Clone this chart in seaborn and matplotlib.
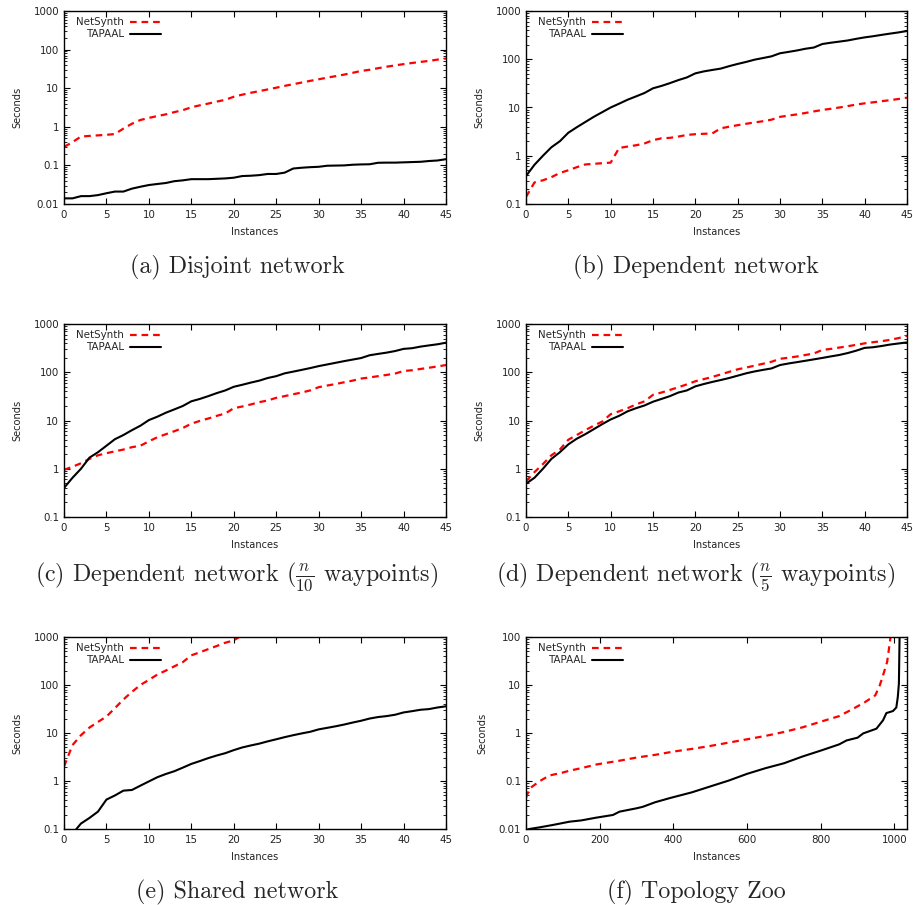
import matplotlib
matplotlib.use("Agg")
import matplotlib.pyplot as plt
import matplotlib.ticker as ticker
import seaborn as sns

instances = list(range(46))

# (a) Disjoint network
disjoint_netsynth = [0.30, 0.40, 0.56, 0.58, 0.60, 0.62, 0.65, 0.90, 1.2, 1.5,
                     1.7, 1.9, 2.1, 2.4, 2.7, 3.2, 3.6, 4.0, 4.5, 5.0,
                     6.0, 6.8, 7.6, 8.4, 9.3, 10.3, 11.5, 12.7, 14.0, 15.5,
                     17.0, 18.8, 20.5, 22.5, 25.0, 28.0, 30.0, 33.0, 36.0, 39.0,
                     42.0, 45.0, 48.0, 51.0, 55.0, 59.0]
disjoint_tapaal = [0.014, 0.014, 0.016, 0.016, 0.017, 0.019, 0.021, 0.021, 0.025, 0.028,
                   0.031, 0.033, 0.035, 0.039, 0.041, 0.044, 0.044, 0.044, 0.045, 0.046,
                   0.048, 0.053, 0.054, 0.056, 0.060, 0.060, 0.065, 0.083, 0.087, 0.090,
                   0.092, 0.098, 0.099, 0.100, 0.104, 0.106, 0.107, 0.117, 0.118, 0.118,
                   0.120, 0.122, 0.124, 0.130, 0.134, 0.145]

# (b) Dependent network
dependent_netsynth = [0.14, 0.28, 0.31, 0.36, 0.44, 0.50, 0.58, 0.66, 0.68, 0.70,
                      0.72, 1.45, 1.55, 1.65, 1.8, 2.1, 2.3, 2.35, 2.5, 2.7,
                      2.8, 2.85, 2.9, 3.7, 4.0, 4.3, 4.6, 4.9, 5.2, 5.6,
                      6.4, 6.8, 7.2, 7.7, 8.3, 8.9, 9.4, 10.0, 10.7, 11.5,
                      12.2, 12.8, 13.5, 14.2, 15.0, 16.0]
dependent_tapaal = [0.38, 0.65, 1.0, 1.5, 2.0, 3.0, 3.9, 5.0, 6.4, 8.0,
                    10.0, 12.0, 14.5, 17.0, 20.0, 25.0, 28.0, 32.0, 37.0, 42.0,
                    51.0, 56.0, 60.0, 64.0, 72.0, 80.0, 88.0, 98.0, 106.0, 115.0,
                    133.0, 142.0, 152.0, 165.0, 175.0, 207.0, 220.0, 232.0, 245.0, 265.0,
                    284.0, 300.0, 320.0, 340.0, 360.0, 385.0]

# (c) Dependent network (n/10 waypoints)
wp10_netsynth = [0.95, 1.1, 1.3, 1.6, 1.9, 2.1, 2.3, 2.5, 2.8, 3.0,
                 3.7, 4.5, 5.2, 6.0, 7.0, 8.6, 9.8, 11.0, 12.5, 14.0,
                 18.0, 19.5, 21.5, 24.0, 26.0, 29.5, 32.0, 35.0, 38.0, 42.0,
                 49.0, 53.0, 57.0, 62.0, 67.0, 74.0, 78.0, 83.0, 88.0, 94.0,
                 106.0, 110.0, 117.0, 124.0, 132.0, 141.0]
wp10_tapaal = [0.40, 0.65, 1.0, 1.7, 2.2, 3.0, 4.1, 5.0, 6.3, 7.8,
               10.2, 12.0, 14.5, 17.0, 20.0, 25.0, 28.0, 32.0, 37.0, 42.0,
               50.0, 55.0, 61.0, 67.0, 76.0, 83.0, 95.0, 103.0, 112.0, 122.0,
               134.0, 145.0, 157.0, 170.0, 183.0, 197.0, 225.0, 240.0, 255.0, 275.0,
               305.0, 315.0, 340.0, 360.0, 380.0, 410.0]

# (d) Dependent network (n/5 waypoints)
wp5_netsynth = [0.55, 0.85, 1.25, 1.9, 2.5, 4.0, 5.0, 6.3, 7.8, 9.5,
                13.5, 15.5, 18.0, 21.5, 25.0, 34.0, 38.0, 43.0, 49.0, 56.0,
                65.0, 72.0, 80.0, 90.0, 102.0, 115.0, 125.0, 137.0, 150.0, 165.0,
                190.0, 200.0, 212.0, 228.0, 245.0, 290.0, 305.0, 325.0, 345.0, 370.0,
                397.0, 420.0, 440.0, 470.0, 510.0, 570.0]
wp5_tapaal = [0.49, 0.65, 1.0, 1.6, 2.2, 3.2, 4.2, 5.2, 6.6, 8.4,
              10.5, 12.5, 15.5, 18.0, 20.5, 24.5, 28.0, 32.0, 38.0, 42.0,
              51.0, 57.0, 63.0, 69.0, 76.0, 85.0, 95.0, 104.0, 112.0, 120.0,
              141.0, 152.0, 162.0, 173.0, 185.0, 198.0, 213.0, 228.0, 250.0, 280.0,
              320.0, 330.0, 350.0, 375.0, 395.0, 415.0]

# (e) Shared network (NetSynth leaves the plot after ~21 instances)
shared_instances_netsynth = list(range(22))
shared_netsynth = [2.0, 5.6, 9.0, 13.0, 17.0, 22.0, 33.0, 50.0, 72.0, 100.0,
                   128.0, 165.0, 200.0, 245.0, 300.0, 415.0, 480.0, 560.0, 650.0, 760.0,
                   850.0, 1100.0]
shared_tapaal = [0.05, 0.08, 0.13, 0.17, 0.23, 0.41, 0.50, 0.63, 0.65, 0.80,
                 0.98, 1.2, 1.4, 1.6, 1.9, 2.27, 2.6, 3.0, 3.4, 3.8,
                 4.4, 5.0, 5.5, 6.0, 6.7, 7.4, 8.2, 9.0, 9.8, 10.6,
                 11.9, 12.8, 13.8, 15.0, 16.5, 18.0, 20.0, 21.5, 22.5, 24.0,
                 26.8, 28.5, 30.5, 31.5, 34.0, 36.0]

# (f) Topology Zoo
zoo_netsynth_x = [0, 10, 36, 63, 100, 118, 150, 190, 200, 254, 300, 350, 400, 450,
                  500, 550, 600, 650, 700, 750, 800, 850, 888, 920, 948, 960, 969,
                  980, 987, 990]
zoo_netsynth = [0.045, 0.07, 0.098, 0.13, 0.15, 0.164, 0.185, 0.22, 0.227, 0.265,
                0.308, 0.35, 0.41, 0.466, 0.537, 0.63, 0.74, 0.87, 1.05, 1.31,
                1.72, 2.25, 3.2, 4.4, 6.1, 9.8, 15.9, 30.0, 73.0, 110.0]
zoo_tapaal_x = [0, 9, 36, 72, 118, 150, 190, 236, 254, 300, 317, 350, 390, 450,
                500, 550, 600, 650, 700, 750, 800, 850, 870, 900, 915, 951, 969,
                978, 996, 1005, 1009, 1012, 1014]
zoo_tapaal = [0.0095, 0.010, 0.0108, 0.0121, 0.0142, 0.0151, 0.0172, 0.0196, 0.023,
              0.027, 0.029, 0.036, 0.044, 0.058, 0.077, 0.102, 0.141, 0.185, 0.234,
              0.323, 0.43, 0.58, 0.70, 0.80, 0.98, 1.23, 1.84, 2.6, 2.87, 3.4,
              5.6, 10.7, 120.0]

panels = [
    (instances, disjoint_netsynth, instances, disjoint_tapaal, (0.01, 1000), (0, 45), 5,
     "(a) Disjoint network"),
    (instances, dependent_netsynth, instances, dependent_tapaal, (0.1, 1000), (0, 45), 5,
     "(b) Dependent network"),
    (instances, wp10_netsynth, instances, wp10_tapaal, (0.1, 1000), (0, 45), 5,
     r"(c) Dependent network ($\frac{n}{10}$ waypoints)"),
    (instances, wp5_netsynth, instances, wp5_tapaal, (0.1, 1000), (0, 45), 5,
     r"(d) Dependent network ($\frac{n}{5}$ waypoints)"),
    (shared_instances_netsynth, shared_netsynth, instances, shared_tapaal, (0.1, 1000), (0, 45), 5,
     "(e) Shared network"),
    (zoo_netsynth_x, zoo_netsynth, zoo_tapaal_x, zoo_tapaal, (0.01, 100), (0, 1034), 200,
     "(f) Topology Zoo"),
]

sns.set_style("ticks")
plt.rcParams["font.family"] = ["DejaVu Sans"]
plt.rcParams["mathtext.fontset"] = "cm"

fig = plt.figure(figsize=(9.13, 9.05), dpi=100)

W, H = 913, 905
col_left = [64, 526]
col_width = [382, 381]
row_top = [11, 324, 637]
row_bottom = [204, 517, 829]
caption_x = [237, 696]
caption_base = [273, 581, 898]

for i, (nx, ny, tx, ty, ylim, xlim, xstep, caption) in enumerate(panels):
    r, c = divmod(i, 2)
    ax = fig.add_axes([col_left[c] / W, 1 - row_bottom[r] / H,
                       col_width[c] / W, (row_bottom[r] - row_top[r]) / H])

    sns.lineplot(x=nx, y=ny, ax=ax, color="#ff0000", linewidth=1.6,
                 estimator=None, label="NetSynth")
    sns.lineplot(x=tx, y=ty, ax=ax, color="black", linewidth=1.5,
                 estimator=None, label="TAPAAL")
    ax.lines[0].set_dashes((3.0, 2.2))

    ax.set_yscale("log")
    ax.set_ylim(*ylim)
    ax.set_xlim(*xlim)
    ax.xaxis.set_major_locator(ticker.MultipleLocator(xstep))
    ax.yaxis.set_major_locator(ticker.LogLocator(base=10))
    ax.yaxis.set_minor_locator(ticker.LogLocator(base=10, subs=range(2, 10)))
    ax.yaxis.set_minor_formatter(ticker.NullFormatter())
    ax.yaxis.set_major_formatter(ticker.FuncFormatter(lambda v, p: f"{v:g}"))

    ax.tick_params(which="both", direction="in", top=True, right=True,
                   labelsize=7.4, colors="black", labelcolor="#222222")
    ax.tick_params(which="major", length=4, width=0.8)
    ax.tick_params(which="minor", length=2, width=0.6)
    ax.tick_params(axis="x", pad=4.5)
    ax.tick_params(axis="y", pad=3.5)
    for s in ax.spines.values():
        s.set_linewidth(1.0)
        s.set_color("black")

    ax.set_xlabel("Instances", fontsize=7.1, color="#222222", labelpad=5)
    ax.set_ylabel("Seconds", fontsize=7.1, color="#222222", labelpad=8)

    ax.legend(loc="upper left", bbox_to_anchor=(0.016, 1.0), frameon=False,
              markerfirst=False, fontsize=7.4, handlelength=3.0, handletextpad=0.6,
              labelspacing=0.2, borderaxespad=0.3, borderpad=0.3)

    fig.text(caption_x[c] / W, 1 - caption_base[r] / H, caption,
             family="cmr10", fontsize=17.3, ha="center", va="baseline")

fig.savefig("out.png", dpi=100)
